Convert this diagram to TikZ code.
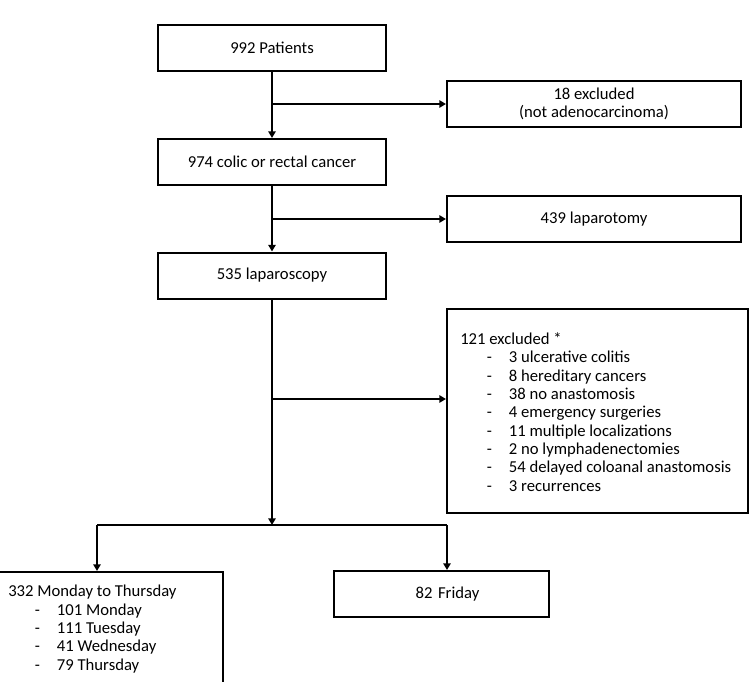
\documentclass[tikz,border=0pt]{standalone}
\usepackage{fontspec}
\setmainfont{Carlito}
\usetikzlibrary{arrows.meta}
\newcommand{\dashitem}[1]{\hspace*{20pt}\makebox[16.5pt][l]{-}#1}

\begin{document}
\begin{tikzpicture}[x = 0.75pt, y = -0.75pt, font = \fontsize{12.5}{13.75}\selectfont,
        box/.style = {draw, line width = 1.5pt, minimum height = 34.5pt, inner sep = 0pt, align = center},
        flow/.style = {line width = 1.5pt, -{Triangle[length = 5pt, width = 5.5pt]}}]
        \useasboundingbox (0, 0) rectangle (752, 681);
        \node[box, minimum width = 171pt] (pat) at (272, 48) {992 Patients};
        \node[box, minimum width = 220.5pt] (excl) at (594, 104) {18 excluded\\(not adenocarcinoma)};
        \node[box, minimum width = 171pt] (crc) at (272, 162) {974 colic or rectal cancer};
        \node[box, minimum width = 220.5pt] (lapt) at (594, 219) {439 laparotomy};
        \node[box, minimum width = 171pt] (laps) at (272, 275.5) {535 laparoscopy};
        \node[box, minimum width = 225.75pt, minimum height = 153pt] (excl2) at (597.5, 411) {};
        \node[anchor = north west, align = left, inner sep = 0pt] (excl2txt) at (460, 332.5)
            {121 excluded *\\
            \dashitem{3 ulcerative colitis}\\
            \dashitem{8 hereditary cancers}\\
            \dashitem{38 no anastomosis}\\
            \dashitem{4 emergency surgeries}\\
            \dashitem{11 multiple localizations}\\
            \dashitem{2 no lymphadenectomies}\\
            \dashitem{54 delayed coloanal anastomosis}\\
            \dashitem{3 recurrences}};
        \node[box, anchor = north west, minimum width = 170.25pt, minimum height = 97.5pt] (mtth) at (-5, 571) {};
        \node[anchor = north west, align = left, inner sep = 0pt] (mtthtxt) at (8, 585)
            {332 Monday to Thursday\\
            \dashitem{101 Monday}\\
            \dashitem{111 Tuesday}\\
            \dashitem{41 Wednesday}\\
            \dashitem{79 Thursday}};
        \node[box, minimum width = 161.25pt, inner xsep = 4pt, text width = 150pt] (fri) at (441.5, 594) {\hspace*{9pt}82 Friday};
        \coordinate (split) at (272, 399);
        \coordinate (fork) at (272, 525);
        \coordinate (lft) at (97, 525);
        \coordinate (rgt) at (447, 525);
        \draw[flow] (pat) -- (crc);
        \draw[flow] (crc) -- (laps);
        \draw[flow] (pat.south |- excl.west) -- (excl.west);
        \draw[flow] (crc.south |- lapt.west) -- (lapt.west);
        \draw[flow] (split) -- (split -| excl2.west);
        \draw[flow] (laps) -- (fork);
        \draw[line width = 1.5pt] (lft) -- (rgt);
        \draw[flow] (lft) -- (lft |- mtth.north);
        \draw[flow] (rgt) -- (rgt |- fri.north);
    \end{tikzpicture}
\end{document}
